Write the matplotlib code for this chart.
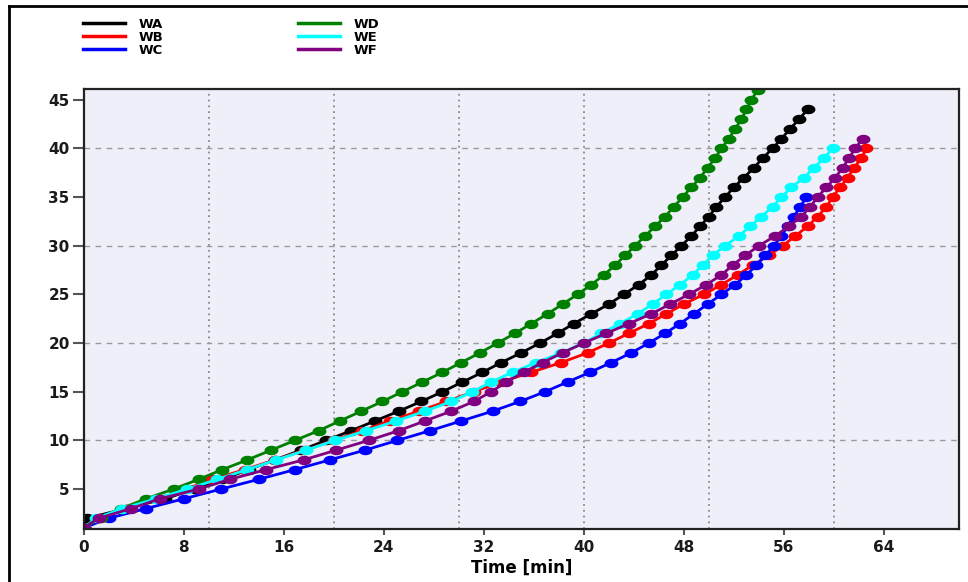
import numpy as np
import matplotlib
matplotlib.use("Agg")
import matplotlib.pyplot as plt
from matplotlib.path import Path
from matplotlib.lines import Line2D
from matplotlib.ticker import MultipleLocator

# time [min] needed to reach each level 1, 2, 3, ...
wa = [0.0, 0.3, 3.4, 6.5, 8.9, 11.1, 13.2, 15.3, 17.4, 19.4,
      21.4, 23.3, 25.2, 27.0, 28.7, 30.3, 31.9, 33.4, 35.0, 36.5,
      37.9, 39.2, 40.6, 42.0, 43.2, 44.4, 45.4, 46.2, 47.0, 47.8,
      48.6, 49.3, 50.0, 50.6, 51.3, 52.0, 52.8, 53.6, 54.3, 55.1,
      55.8, 56.5, 57.2, 57.9]
wb = [0.0, 1.3, 3.5, 6.0, 8.2, 10.3, 12.9, 15.3, 17.7, 20.0,
      22.3, 24.5, 26.8, 29.0, 31.2, 33.4, 35.8, 38.2, 40.3, 42.0,
      43.6, 45.2, 46.6, 48.0, 49.6, 51.0, 52.3, 53.5, 54.8, 55.9,
      56.9, 57.9, 58.7, 59.4, 59.9, 60.5, 61.1, 61.6, 62.2, 62.6]
wc = [0.0, 2.0, 5.0, 8.0, 11.0, 14.0, 16.9, 19.7, 22.5, 25.1,
      27.7, 30.2, 32.7, 34.9, 36.9, 38.7, 40.5, 42.2, 43.8, 45.2,
      46.5, 47.7, 48.8, 49.9, 51.0, 52.1, 53.0, 53.8, 54.5, 55.2,
      55.8, 56.3, 56.8, 57.3, 57.8]
wd = [0.0, 1.4, 3.0, 5.0, 7.2, 9.2, 11.1, 13.1, 15.0, 16.9,
      18.8, 20.5, 22.2, 23.9, 25.5, 27.1, 28.7, 30.2, 31.7, 33.1,
      34.5, 35.8, 37.1, 38.3, 39.5, 40.6, 41.6, 42.5, 43.3, 44.1,
      44.9, 45.7, 46.5, 47.2, 47.9, 48.6, 49.3, 49.9, 50.5, 51.0,
      51.6, 52.1, 52.6, 53.0, 53.4, 53.9]
we = [0.0, 1.0, 3.1, 5.8, 8.3, 10.7, 13.1, 15.4, 17.8, 20.1,
      22.6, 25.0, 27.3, 29.4, 31.1, 32.6, 34.3, 36.2, 38.2, 40.0,
      41.4, 42.9, 44.3, 45.5, 46.6, 47.7, 48.7, 49.5, 50.3, 51.3,
      52.4, 53.3, 54.2, 55.1, 55.8, 56.6, 57.6, 58.4, 59.2, 59.9]
wf = [0.0, 1.2, 3.8, 6.1, 9.2, 11.7, 14.6, 17.6, 20.2, 22.8,
      25.2, 27.3, 29.4, 31.2, 32.6, 33.8, 35.2, 36.7, 38.3, 40.0,
      41.8, 43.6, 45.4, 46.9, 48.4, 49.8, 51.0, 51.9, 52.9, 54.0,
      55.3, 56.4, 57.4, 58.1, 58.7, 59.4, 60.1, 60.7, 61.2, 61.7,
      62.3]

names = ["WA", "WB", "WC", "WD", "WE", "WF"]
series = [wa, wb, wc, wd, we, wf]
colors = ["black", "#ff0000", "#0000ff", "#008000", "#00ffff", "#800080"]

x_ticks = [0, 8, 16, 24, 32, 40, 48, 56, 64]

# points look like flattened ellipses in the picture
t = np.linspace(0, 2 * np.pi, 41)
ellipse = Path(np.column_stack([np.cos(t), 0.68 * np.sin(t)]), closed=True)

fig = plt.figure(figsize=(9.68, 5.82), dpi=100)
ax = fig.add_axes([0.0863, 0.0911, 0.9044, 0.7559])
ax.set_facecolor("#efeff9")

for name, xs, c in zip(names, series, colors):
    levels = np.arange(1, len(xs) + 1)
    ax.plot(xs, levels, color=c, lw=2, marker=ellipse, ms=10,
            markeredgewidth=0, label=name)

ax.set_xlim(0, 70)
ax.set_ylim(0.9, 46.1)
ax.set_xticks(x_ticks)
ax.yaxis.set_major_locator(MultipleLocator(5))
ax.set_yticks([v for v in ax.get_yticks() if 4 < v < 46])

# grid every 10 units, dotted vertically, dashed horizontally
ax.xaxis.set_minor_locator(MultipleLocator(10))
ax.yaxis.set_minor_locator(MultipleLocator(10))
ax.xaxis.remove_overlapping_locs = False
ax.yaxis.remove_overlapping_locs = False
ax.grid(which="minor", axis="x", color="#8a8a8a", ls=(0, (1, 2.2)), lw=1.3)
ax.grid(which="minor", axis="y", color="#9a9a9a", ls=(0, (4, 4)), lw=1)
ax.grid(which="major", visible=False)
ax.set_axisbelow(True)

ax.tick_params(which="minor", length=0)
ax.tick_params(axis="x", which="major", direction="out", length=4,
               width=1.5, color="#555555", pad=4)
ax.tick_params(axis="y", which="major", direction="out", length=8,
               width=1.5, color="#555555", pad=2)
for lab in ax.get_xticklabels() + ax.get_yticklabels():
    lab.set_fontsize(11)
    lab.set_fontweight("bold")
    lab.set_color("#1a1a1a")

for sp in ax.spines.values():
    sp.set_linewidth(1.6)
    sp.set_color("#222222")

ax.set_xlabel("Time [min]", fontsize=12, fontweight="bold", labelpad=3)

handles = [Line2D([], [], color=c, lw=2.5) for c in colors]
fig.legend(handles, names, ncol=2, loc="upper left",
           bbox_to_anchor=(0.0857, 0.969), frameon=False,
           prop={"weight": "bold", "size": 9.5},
           handlelength=3.2, handletextpad=1.0, columnspacing=10.2,
           labelspacing=0.0, borderpad=0, borderaxespad=0)

# border of the page frame around the figure
fig.add_artist(Line2D([9 / 968, 9 / 968], [0, 1 - 6 / 582],
                      transform=fig.transFigure, color="black", lw=2))
fig.add_artist(Line2D([9 / 968, 1], [1 - 6 / 582, 1 - 6 / 582],
                      transform=fig.transFigure, color="black", lw=2))

fig.savefig("out.png", dpi=100)
